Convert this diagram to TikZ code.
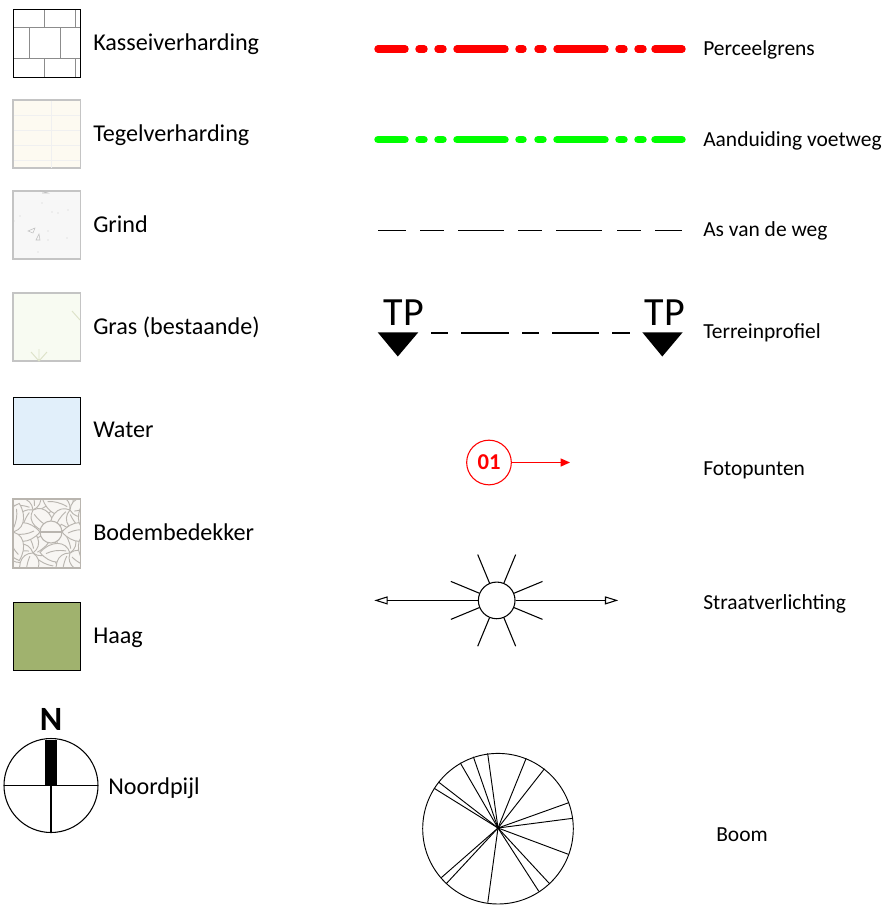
\documentclass[tikz,border=0pt]{standalone}
\usepackage{fontspec}
\setmainfont{Carlito}
\usetikzlibrary{arrows.meta,calc}
\definecolor{swatchgray}{HTML}{C4C4C4}
\definecolor{tegelfill}{HTML}{FDFAF1}
\definecolor{grindfill}{HTML}{F7F7F7}
\definecolor{grasfill}{HTML}{F8FBF2}
\definecolor{grasline}{HTML}{DDE2C8}
\definecolor{waterfill}{HTML}{E1EFFA}
\definecolor{bodemfill}{HTML}{F8F6F3}
\definecolor{bodemline}{HTML}{B9B5AF}
\definecolor{haagfill}{HTML}{A0B26E}
\tikzset{
  leftlabel/.style={anchor=base west,inner sep=0pt,font=\fontsize{18.1pt}{20pt}\selectfont},
  rightlabel/.style={anchor=base west,inner sep=0pt,font=\fontsize{16.1pt}{18pt}\selectfont},
  tplabel/.style={anchor=base,inner sep=0pt,font=\fontsize{30pt}{32pt}\selectfont},
  perceelline/.style={line width=5.6pt,line cap=round},
  tpline/.style={line width=1.9pt},
  weeline/.style={line width=0.7pt},
  leaf/.style={draw=bodemline,fill=bodemfill,line width=0.7pt}
}
\begin{document}
\begin{tikzpicture}[x=0.75pt,y=-0.75pt]
    \useasboundingbox (0,0) rectangle (884,907);
    % swatches on the left
    \draw[black!45,line width=0.7pt] (29,27.5) -- (29,58.5) (60,27.5) -- (60,58.5)
        (44,10) -- (44,27.5) (75,10) -- (75,27.5) (44,58.5) -- (44,77) (75,58.5) -- (75,77)
        (13,27.5) -- (81,27.5) (13,58.5) -- (81,58.5);
    \draw[line width=0.7pt] (13,9.5) rectangle (80.5,77);
    \filldraw[fill=tegelfill,draw=swatchgray,line width=0.8pt] (13,100) rectangle (80.5,168);
    \draw[black!6,line width=0.6pt] (51,100.5) -- (51,167.5);
    \foreach \y in {115,130,145,160}
        \draw[black!6,line width=0.6pt] (13.5,\y) -- (80,\y);
    \filldraw[fill=grindfill,draw=swatchgray,line width=0.8pt] (13,191) rectangle (80.5,259);
    \draw[black!25,line width=0.4pt] (28,231) -- (35,228) -- (33,233) -- cycle
        (36,240) -- (39,234) -- (40,240) -- cycle (40,190.5) -- (48,193) -- (42,193);
    \foreach \x/\y in {42/203,52/212,58/213,68/210,48/231,67/238,38/252,48/240,20/216,14/221}
        \fill[black!20] (\x,\y) circle (0.6);
    \filldraw[fill=grasfill,draw=swatchgray,line width=0.8pt] (13,293) rectangle (80.5,361);
    \draw[grasline,line width=0.7pt] (39,349) -- (39,361) (31,352) -- (39,361) -- (47,352)
        (72,311) -- (80,320);
    \filldraw[fill=waterfill,line width=0.7pt] (13,397) rectangle (80.5,464);
    \filldraw[fill=bodemfill,draw=bodemline,line width=0.8pt] (13,499) rectangle (80.5,568);
    \begin{scope}
        \clip (13,499) rectangle (80.5,568);
        \foreach \cx/\cy/\r in {33/510/25,70/510/85,33/553/-35,70/553/35,10/532/0,92/532/180}
            \foreach \a in {0,72,144,216,288} {
                \begin{scope}[shift={(\cx,\cy)},rotate=\a+\r]
                    \draw[leaf] (0,0) .. controls (4,-13) and (20,-12) .. (30,0) .. controls (20,12) and (4,13) .. (0,0);
                    \draw[leaf] (4,2) .. controls (12,3) and (18,2) .. (24,-1);
                \end{scope}
            }
        \filldraw[fill=bodemfill,draw=bodemline,line width=0.8pt] (51,532) circle (11);
        \draw[bodemline,line width=0.8pt] (40,532) -- (62,532);
    \end{scope}
    \draw[bodemline,line width=0.8pt] (13,499) rectangle (80.5,568);
    \filldraw[fill=haagfill,line width=0.7pt] (13,602) rectangle (80.5,670);
    \node[leftlabel] (kassei) at (93,50.5) {Kasseiverharding};
    \node[leftlabel] (tegel) at (93,141.5) {Tegelverharding};
    \node[leftlabel] (grind) at (93,232) {Grind};
    \node[leftlabel] (gras) at (93,334) {Gras (bestaande)};
    \node[leftlabel] (water) at (93,437) {Water};
    \node[leftlabel] (bodem) at (93,540.5) {Bodembedekker};
    \node[leftlabel] (haag) at (93,643.5) {Haag};
    % north arrow
    \fill (45,740) rectangle (57,785.5);
    \draw[line width=0.8pt] (51,785.5) circle (47);
    \draw[line width=0.8pt] (4,785.5) -- (98,785.5) (51,785.5) -- (51,832.5);
    \node[anchor=base,inner sep=0pt,font=\fontsize{25.5pt}{27pt}\selectfont\bfseries] (north) at (51,730.5) {N};
    \node[leftlabel] (noord) at (108,794.5) {Noordpijl};
    % lines on the right
    \foreach \a/\b in {378/405,419/424,438/443,457/505,519/523,538/543,557/605,619/624,638/643,655/682} {
        \draw[perceelline,red] (\a,49) -- (\b,49);
        \draw[perceelline,green] (\a,139.7) -- (\b,139.7);
    }
    \foreach \a/\b in {378/406,420/444,458/504,518/542,556/602,617/641,655/682}
        \draw[weeline] (\a,230.3) -- (\b,230.3);
    \foreach \a/\b in {431/448,461/509,522/539,552/599,612/630}
        \draw[tpline] (\a,333) -- (\b,333);
    \fill (377.7,332.3) -- (418.3,332.3) -- (397.8,356.5) -- cycle;
    \fill (642.3,332.3) -- (682.7,332.3) -- (662.3,356.5) -- cycle;
    \node[tplabel] (tpleft) at (404,325.5) {TP};
    \node[tplabel] (tpright) at (665,325.5) {TP};
    % photo point
    \node[circle,draw=red,line width=0.8pt,minimum size=33.5pt,inner sep=0pt,text=red,
        font=\fontsize{17pt}{19pt}\selectfont\bfseries] (foto) at (489,462.5) {01};
    \coordinate (fotoend) at (570,462.5);
    \draw[red,line width=0.8pt,-{Triangle[length=7pt,width=6pt]}] (foto) -- (fotoend);
    % street light
    \node[circle,draw,line width=0.8pt,minimum size=27.5pt,inner sep=0pt] (lamp) at (496.7,600.4) {};
    \foreach \a in {22.5,67.5,...,337.5}
        \draw[line width=0.8pt] ($(lamp)+(\a:18.7)$) -- ($(lamp)+(\a:49.6)$);
    \coordinate (lampleft) at (374.3,600.4);
    \coordinate (lampright) at (618.3,600.4);
    \draw[line width=0.8pt,-{Triangle[open,length=10pt,width=6pt]}] (lamp) -- (lampleft);
    \draw[line width=0.8pt,-{Triangle[open,length=10pt,width=6pt]}] (lamp) -- (lampright);
    % tree
    \coordinate (boomc) at (498,828);
    \draw[line width=0.7pt] (498,828.7) circle (75.3);
    \foreach \a in {97.9,68.0,51.9,19.7,7.4,-20.5,-47.2,-57.2,262.2,227.1,221.2,148.1,142.3,120.1,109.1}
        \draw[line width=0.7pt] (boomc) -- ($(boomc)+(-\a:75.3)$);
    \node[rightlabel] (perceel) at (703,55) {Perceelgrens};
    \node[rightlabel] (voetweg) at (703,146) {Aanduiding voetweg};
    \node[rightlabel] (as) at (703,236) {As van de weg};
    \node[rightlabel] (terrein) at (703,338) {Terreinprofiel};
    \node[rightlabel] (fotopunten) at (703,475) {Fotopunten};
    \node[rightlabel] (straat) at (703,609) {Straatverlichting};
    \node[rightlabel] (boom) at (716,841) {Boom};
\end{tikzpicture}
\end{document}
